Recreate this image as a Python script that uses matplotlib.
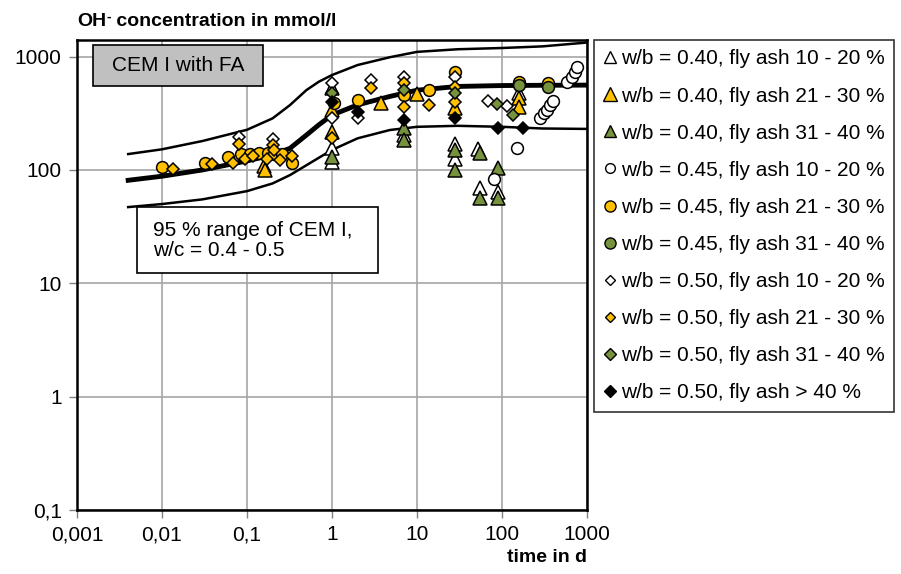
import numpy as np
import matplotlib
matplotlib.use("Agg")
import matplotlib.pyplot as plt
from matplotlib.lines import Line2D
from matplotlib.patches import Rectangle

plt.rcParams["font.family"] = ["Liberation Sans", "DejaVu Sans"]

YELLOW = "#FFC000"
GREEN = "#76923C"

# reference curves for CEM I (95 % range and mean)
curve_t = [0.004, 0.01, 0.03, 0.1, 0.2, 0.32, 0.5, 0.7, 1, 2, 4.8, 10, 30, 100, 300, 1000]
mean_c = [81, 88, 100, 120, 136, 155, 203, 250, 305, 375, 445, 505, 545, 555, 558, 560]
upper_c = [138, 152, 180, 226, 285, 373, 506, 600, 687, 842, 987, 1100, 1160, 1190, 1230, 1330]
lower_c = [47, 50, 55, 65, 76, 90, 110, 128, 150, 190, 225, 240, 245, 240, 232, 230]

# w/b = 0.40
wt_t = [1, 1, 1, 7, 28, 28, 52, 55, 90, 160]
wt_c = [530, 155, 118, 203, 171, 126, 152, 69, 64, 473]
yt_t = [0.16, 0.165, 1, 1, 3.8, 10, 28, 160, 160]
yt_c = [108, 100, 337, 217, 386, 465, 349, 428, 360]
gt_t = [1, 7, 7, 28, 28, 55, 55, 90, 90]
gt_c = [130, 232, 184, 150, 100, 142, 56, 103, 56]
# w/b = 0.45
wc_t = [80, 150, 280, 310, 340, 370, 400, 580, 660, 725, 760]
wc_c = [84, 155, 285, 316, 338, 373, 407, 600, 664, 736, 813]
yc_t = [0.01, 0.032, 0.06, 0.086, 0.108, 0.14, 0.175, 0.21, 0.255, 0.334, 1.05, 2, 7, 13.7, 28, 160, 350]
yc_c = [107, 116, 129, 138, 138, 140, 140, 138, 138, 114, 390, 413, 457, 510, 736, 600, 580]
gc_t = [160, 350]
gc_c = [560, 541]
# w/b = 0.50
wd_t = [0.08, 0.204, 1, 1, 2, 2.9, 7, 28, 69, 114]
wd_c = [196, 186, 580, 285, 285, 620, 664, 664, 405, 367]
yd_t = [0.0134, 0.039, 0.068, 0.08, 0.094, 0.118, 0.17, 0.204, 0.207, 0.243, 0.334,
        1, 2.9, 7, 7, 13.7, 28, 28]
yd_c = [101, 112, 116, 171, 126, 132, 126, 165, 150, 122, 132,
        190, 525, 580, 360, 375, 541, 400]
gd_t = [1, 7, 28, 87, 136]
gd_c = [473, 506, 473, 380, 305]
bd_t = [1, 2, 7, 28, 90, 178]
bd_c = [400, 326, 276, 285, 232, 232]

labels = [
    "w/b = 0.40, fly ash 10 - 20 %",
    "w/b = 0.40, fly ash 21 - 30 %",
    "w/b = 0.40, fly ash 31 - 40 %",
    "w/b = 0.45, fly ash 10 - 20 %",
    "w/b = 0.45, fly ash 21 - 30 %",
    "w/b = 0.45, fly ash 31 - 40 %",
    "w/b = 0.50, fly ash 10 - 20 %",
    "w/b = 0.50, fly ash 21 - 30 %",
    "w/b = 0.50, fly ash 31 - 40 %",
    "w/b = 0.50, fly ash > 40 %",
]

# (t, c, marker, face, plot size, legend size)
series = [
    (wt_t, wt_c, "^", "white", 10, 8),
    (yt_t, yt_c, "^", YELLOW, 10, 10),
    (gt_t, gt_c, "^", GREEN, 10, 8),
    (wc_t, wc_c, "o", "white", 8.5, 7),
    (yc_t, yc_c, "o", YELLOW, 8.5, 8),
    (gc_t, gc_c, "o", GREEN, 8.5, 8),
    (wd_t, wd_c, "D", "white", 6, 5.5),
    (yd_t, yd_c, "D", YELLOW, 6, 5.5),
    (gd_t, gd_c, "D", GREEN, 6, 6),
    (bd_t, bd_c, "D", "black", 6, 6),
]

fig = plt.figure(figsize=(9.01, 5.74), dpi=100)
ax = fig.add_axes([77 / 901, 1 - 510 / 574, 510 / 901, 470 / 574])

ax.plot(curve_t, upper_c, color="black", lw=1.8, zorder=2)
ax.plot(curve_t, lower_c, color="black", lw=1.8, zorder=2)
ax.plot(curve_t, mean_c, color="black", lw=3.5, zorder=2)

handles = []
for (t, c, m, fc, ms, lms), lab in zip(series, labels):
    ax.plot(t, c, ls="none", marker=m, ms=ms, mfc=fc, mec="black", mew=1.1, zorder=3)
    handles.append(Line2D([], [], ls="none", marker=m, ms=lms, mfc=fc, mec="black", mew=1.0))

ax.set_xscale("log")
ax.set_yscale("log")
ax.set_xlim(0.001, 1000)
ax.set_ylim(0.1, 1400)

xt = [0.001, 0.01, 0.1, 1, 10, 100, 1000]
yt = [0.1, 1, 10, 100, 1000]
ax.set_xticks(xt)
ax.set_xticklabels(["0,001", "0,01", "0,1", "1", "10", "100", "1000"])
ax.set_yticks(yt)
ax.set_yticklabels(["0,1", "1", "10", "100", "1000"])
ax.minorticks_off()
ax.tick_params(axis="both", which="major", labelsize=15, length=6, width=1, color="#808080", pad=5)
ax.grid(True, which="major", color="#a6a6a6", lw=1.2)
ax.set_axisbelow(True)
for s in ax.spines.values():
    s.set_linewidth(1.8)

# text boxes
ax.add_patch(Rectangle((0.031, 0.902), 0.334, 0.087, transform=ax.transAxes,
                       facecolor="#c0c0c0", edgecolor="black", lw=1.2, zorder=4))
ax.text(0.198, 0.945, "CEM I with FA", transform=ax.transAxes, fontsize=15,
        ha="center", va="center", zorder=5)
ax.add_patch(Rectangle((0.118, 0.504), 0.472, 0.141, transform=ax.transAxes,
                       facecolor="white", edgecolor="black", lw=1.2, zorder=4))
ax.text(0.149, 0.574, "95 % range of CEM I,\nw/c = 0.4 - 0.5", transform=ax.transAxes,
        fontsize=15, ha="left", va="center", linespacing=1.05, zorder=5)

# y axis title with a small raised minus after OH
t1 = fig.text(77 / 901, 1 - 26 / 574, "OH", fontsize=14, fontweight="bold",
              ha="left", va="baseline")
t2 = ax.annotate("-", xy=(1, 0.55), xycoords=t1, fontsize=10, fontweight="bold",
                 ha="left", va="baseline", annotation_clip=False)
ax.annotate(" concentration in mmol/l", xy=(1, 0), xycoords=(t2, t1), fontsize=14,
            fontweight="bold", ha="left", va="bottom", annotation_clip=False)
fig.text(587 / 901, 1 - 558 / 574, "time in d", fontsize=14, fontweight="bold",
         ha="right", va="center")

leg = fig.legend(handles, labels, loc="upper left", bbox_to_anchor=(594 / 901, 1 - 40 / 574),
                 fontsize=15, frameon=True, fancybox=False, edgecolor="black",
                 handlelength=0.6, handletextpad=0.25, labelspacing=0.87,
                 borderpad=0.45, borderaxespad=0)
leg.get_frame().set_linewidth(1.2)

fig.savefig("out.png", dpi=100)
